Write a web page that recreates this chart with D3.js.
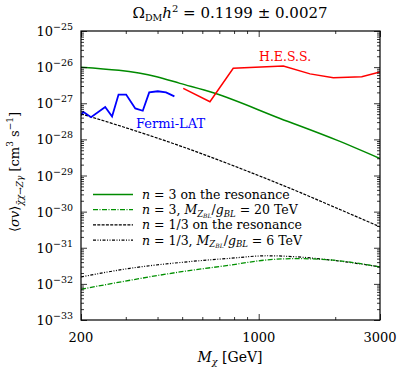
<!DOCTYPE html>
<html>
<head>
<meta charset="utf-8">
<script src="https://cdn.jsdelivr.net/npm/d3@7"></script>
<style>
  body { margin: 0; background: #fff; }
  svg { display: block; }
</style>
</head>
<body>
<div id="chart"></div>
<script>
// data
const fermiMass = [200, 204, 219, 249, 265, 281, 301, 327, 350, 371, 401, 432, 466];
const fermiSigma = [4.6e-28, 5.8e-28, 4.1e-28, 7.9e-28, 4.3e-28, 1.74e-27, 1.74e-27, 7.2e-28, 6.2e-28, 2.0e-27, 2.15e-27, 2.0e-27, 1.55e-27];

const hessMass = [505, 643, 794, 1250, 1592, 1966, 2543, 3000];
const hessSigma = [2.57e-27, 1.1e-27, 9.3e-27, 1.07e-26, 6.5e-27, 5.1e-27, 5.4e-27, 7.4e-27];

const n3ResMass = [200, 397, 490, 663, 1213, 2028, 3000];
const n3ResSigma = [1.0e-26, 5.4e-27, 3.55e-27, 1.95e-27, 3.8e-28, 9.5e-29, 2.95e-29];

const n13ResMass = [200, 300, 500, 883, 1454, 2000, 3000];
const n13ResSigma = [5.1e-28, 2.1e-28, 6.3e-29, 1.4e-29, 3.4e-30, 1.3e-30, 3.8e-31];

const n3OffMass = [200, 312, 490, 770, 1076, 1412, 1909, 3000];
const n3OffSigma = [7.1e-33, 1.26e-32, 2.14e-32, 3.3e-32, 4.6e-32, 5.0e-32, 4.6e-32, 2.95e-32];

const n13OffMass = [200, 312, 490, 770, 1076, 1412, 1909, 3000];
const n13OffSigma = [1.55e-32, 2.7e-32, 3.9e-32, 5.1e-32, 6.0e-32, 5.6e-32, 4.6e-32, 2.95e-32];

const xMajor = [200, 1000, 3000];
const xMinor = [300, 400, 500, 600, 700, 800, 900, 2000];
const yExponents = [-25, -26, -27, -28, -29, -30, -31, -32, -33];

const width = 399, height = 370;
const margin = { top: 31, right: 19, bottom: 50, left: 81 };
const serif = "'DejaVu Serif', 'Liberation Serif', serif";

const svg = d3.select("#chart").append("svg")
  .attr("width", width)
  .attr("height", height)
  .attr("font-family", serif);

const x = d3.scaleLog().domain([200, 3000]).range([margin.left, width - margin.right]);
const y = d3.scaleLog().domain([1e-33, 1e-25]).range([height - margin.bottom, margin.top]);

// minor y ticks: 2..9 in every decade
const yMinor = [];
yExponents.slice(1).forEach(e => {
  for (let k = 2; k <= 9; k++) yMinor.push(k * Math.pow(10, e));
});
const yMajor = yExponents.map(e => Math.pow(10, e));

// rich text helper, dy values are absolute baseline offsets
function rich(sel, parts) {
  let off = 0;
  parts.forEach(([s, o = {}]) => {
    const target = o.dy || 0;
    const ts = sel.append("tspan").text(s).attr("dy", target - off);
    off = target;
    if (o.it) ts.attr("font-style", "italic");
    if (o.fs) ts.attr("font-size", o.fs);
  });
}

// curves
svg.append("clipPath").attr("id", "clip")
  .append("rect")
  .attr("x", margin.left).attr("y", margin.top)
  .attr("width", width - margin.left - margin.right)
  .attr("height", height - margin.top - margin.bottom);

const plot = svg.append("g").attr("clip-path", "url(#clip)");

function series(mass, sigma) {
  return mass.map((m, i) => [m, sigma[i]]);
}
const straight = d3.line().x(d => x(d[0])).y(d => y(d[1]));
const smooth = d3.line().x(d => x(d[0])).y(d => y(d[1])).curve(d3.curveMonotoneX);

plot.append("path").datum(series(n13OffMass, n13OffSigma))
  .attr("d", smooth).attr("fill", "none")
  .attr("stroke", "#000").attr("stroke-width", 1.2)
  .attr("stroke-dasharray", "3,1.5,1,1.5,1,1.5");

plot.append("path").datum(series(n3OffMass, n3OffSigma))
  .attr("d", smooth).attr("fill", "none")
  .attr("stroke", "#009000").attr("stroke-width", 1.3)
  .attr("stroke-dasharray", "5,1.5,1,1.5");

plot.append("path").datum(series(n13ResMass, n13ResSigma))
  .attr("d", smooth).attr("fill", "none")
  .attr("stroke", "#000").attr("stroke-width", 1.2)
  .attr("stroke-dasharray", "3,1.3");

plot.append("path").datum(series(n3ResMass, n3ResSigma))
  .attr("d", smooth).attr("fill", "none")
  .attr("stroke", "#008a00").attr("stroke-width", 1.5);

plot.append("path").datum(series(hessMass, hessSigma))
  .attr("d", straight).attr("fill", "none")
  .attr("stroke", "#ff0000").attr("stroke-width", 1.5);

plot.append("path").datum(series(fermiMass, fermiSigma))
  .attr("d", straight).attr("fill", "none")
  .attr("stroke", "#0000ff").attr("stroke-width", 1.8);

// axes (ticks inside on all four sides)
const bottom = height - margin.bottom, right = width - margin.right;
function tickAxis(axis, tr) {
  const g = svg.append("g").attr("transform", tr).call(axis);
  g.select(".domain").remove();
  g.selectAll("line").attr("stroke", "#000").attr("stroke-width", 0.8);
  return g;
}
tickAxis(d3.axisBottom(x).tickValues(xMajor).tickSize(-6).tickFormat(""), `translate(0,${bottom})`);
tickAxis(d3.axisBottom(x).tickValues(xMinor).tickSize(-3).tickFormat(""), `translate(0,${bottom})`);
tickAxis(d3.axisTop(x).tickValues(xMajor).tickSize(-6).tickFormat(""), `translate(0,${margin.top})`);
tickAxis(d3.axisTop(x).tickValues(xMinor).tickSize(-3).tickFormat(""), `translate(0,${margin.top})`);
tickAxis(d3.axisLeft(y).tickValues(yMajor).tickSize(-6).tickFormat(""), `translate(${margin.left},0)`);
tickAxis(d3.axisLeft(y).tickValues(yMinor).tickSize(-3).tickFormat(""), `translate(${margin.left},0)`);
tickAxis(d3.axisRight(y).tickValues(yMajor).tickSize(-6).tickFormat(""), `translate(${right},0)`);
tickAxis(d3.axisRight(y).tickValues(yMinor).tickSize(-3).tickFormat(""), `translate(${right},0)`);

svg.append("rect")
  .attr("x", margin.left).attr("y", margin.top)
  .attr("width", right - margin.left).attr("height", bottom - margin.top)
  .attr("fill", "none").attr("stroke", "#000").attr("stroke-width", 1.2);

// tick labels
svg.append("g").selectAll("text").data(xMajor).join("text")
  .attr("x", d => x(d)).attr("y", bottom + 22)
  .attr("text-anchor", "middle").attr("font-size", 13)
  .attr("font-family", serif)
  .text(d => d);

svg.append("g").selectAll("text").data(yExponents).join("text")
  .attr("x", margin.left - 8).attr("y", d => y(Math.pow(10, d)) + 5)
  .attr("text-anchor", "end").attr("font-size", 13)
  .attr("font-family", serif)
  .each(function (d) {
    rich(d3.select(this), [["10"], ["\u2212" + Math.abs(d), { dy: -6, fs: 9.5 }]]);
  });

// title
rich(svg.append("text").attr("x", 230).attr("y", 18)
  .attr("text-anchor", "middle").attr("font-size", 15),
  [["\u03A9"], ["DM", { dy: 3, fs: 9.5 }], ["h", { it: true }], ["2", { dy: -6, fs: 10 }], [" = 0.1199 \u00B1 0.0027"]]);

// axis titles
rich(svg.append("text").attr("x", 230).attr("y", 362)
  .attr("text-anchor", "middle").attr("font-size", 14),
  [["M", { it: true }], ["\u03C7", { it: true, dy: 3, fs: 9.5 }], [" [GeV]"]]);

rich(svg.append("text").attr("transform", "translate(19,172) rotate(-90)")
  .attr("text-anchor", "middle").attr("font-size", 13),
  [["\u27E8"], ["\u03C3v", { it: true }], ["\u27E9"],
   ["\u03C7\u0304\u03C7\u2192Z\u03B3", { it: true, dy: 4, fs: 9 }],
   [" [cm"], ["3", { dy: -6, fs: 9 }], [" s"], ["\u22121", { dy: -6, fs: 9 }], ["]"]]);

// experiment labels
svg.append("text").attr("x", 136).attr("y", 128)
  .attr("font-size", 13).attr("fill", "#0000ff").text("Fermi-LAT");
svg.append("text").attr("x", 259).attr("y", 61)
  .attr("font-size", 12.5).attr("fill", "#ff0000").text("H.E.S.S.");

// legend
const legendRows = [
  { color: "#008a00", dash: null, w: 1.5,
    parts: [["n", { it: true }], [" = 3 on the resonance"]] },
  { color: "#009000", dash: "5,1.5,1,1.5", w: 1.3,
    parts: [["n", { it: true }], [" = 3, "], ["M", { it: true }], ["Z", { it: true, dy: 2.5, fs: 8.5 }],
            ["BL", { it: true, dy: 3.5, fs: 6 }], ["/"], ["g", { it: true }], ["BL", { it: true, dy: 2.5, fs: 8.5 }], [" = 20 TeV"]] },
  { color: "#000", dash: "3,1.3", w: 1.2,
    parts: [["n", { it: true }], [" = 1/3 on the resonance"]] },
  { color: "#000", dash: "3,1.5,1,1.5,1,1.5", w: 1.2,
    parts: [["n", { it: true }], [" = 1/3, "], ["M", { it: true }], ["Z", { it: true, dy: 2.5, fs: 8.5 }],
            ["BL", { it: true, dy: 3.5, fs: 6 }], ["/"], ["g", { it: true }], ["BL", { it: true, dy: 2.5, fs: 8.5 }], [" = 6 TeV"]] }
];
const legend = svg.append("g");
legendRows.forEach((r, i) => {
  const yy = 194.5 + i * 15.2;
  legend.append("line").attr("x1", 93).attr("x2", 133).attr("y1", yy).attr("y2", yy)
    .attr("stroke", r.color).attr("stroke-width", r.w)
    .attr("stroke-dasharray", r.dash);
  rich(legend.append("text").attr("x", 142).attr("y", yy + 4.5).attr("font-size", 12.5), r.parts);
});
</script>
</body>
</html>
